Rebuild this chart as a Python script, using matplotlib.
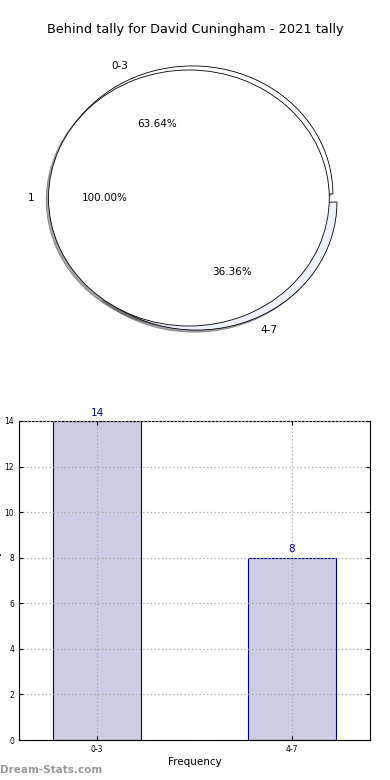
import matplotlib
matplotlib.use("Agg")
import matplotlib.pyplot as plt

title = "Behind tally for David Cuningham - 2021 tally"
outer_labels = ["0-3", "4-7"]
outer_values = [14, 8]
inner_labels = ["1"]
inner_values = [1]
bar_labels = ["0-3", "4-7"]
bar_values = [14, 8]

fig = plt.figure(figsize=(3.9, 7.8), dpi=100)

shadow_style = dict(ox=-0.012, oy=-0.012, shade=0.7)

# Pie axes
axp = fig.add_axes([19/390, 1-358/780, 351/390, 320/780])
w1, t1, a1 = axp.pie(outer_values, labels=outer_labels, autopct="%1.2f%%",
                     explode=[0.035, 0.035],
                     shadow=shadow_style,
                     startangle=0,
                     colors=["white", "#edf2fc"],
                     wedgeprops=dict(edgecolor="black", linewidth=0.6),
                     textprops=dict(fontsize=7.5))
w2, t2, a2 = axp.pie(inner_values, labels=inner_labels, autopct="%1.2f%%",
                     explode=[0.04], startangle=0,
                     shadow=shadow_style,
                     colors=["white"],
                     wedgeprops=dict(edgecolor="black", linewidth=0.6),
                     textprops=dict(fontsize=7.5))
axp.set_aspect("auto")
axp.set_xlim(-1.25, 1.25)
axp.set_ylim(-1.25, 1.25)
fig.text(0.5, 1-30/780, title, ha="center", va="center", fontsize=9.3)

# Bar axes
axb = fig.add_axes([19/390, 1-740/780, 351/390, 319/780])
x = list(range(len(bar_values)))
axb.bar(x, bar_values, width=0.45, color="#ccccE4", edgecolor="navy", linewidth=0.8, zorder=2)
for xi, v in zip(x, bar_values):
    axb.text(xi, v + 0.15, str(v), ha="center", va="bottom", color="navy", fontsize=7.5)
axb.set_xlim(-0.4, 1.4)
axb.set_ylim(0, 14)
axb.set_xticks(x)
axb.set_xticklabels(bar_labels)
axb.set_yticks(range(0, 15, 2))
axb.tick_params(labelsize=5.5, direction="in", length=3, right=True, top=True)
axb.grid(True, linestyle=(0, (1, 2)), color="#aaaaaa", linewidth=0.9, zorder=3)
axb.set_axisbelow(False)
axb.set_xlabel("Frequency", fontsize=7.5, labelpad=2)
axb.set_ylabel("Behind tally", fontsize=7.5, labelpad=2)
for s in axb.spines.values():
    s.set_linewidth(0.8)

fig.text(0.0, 1-770/780, "Dream-Stats.com", ha="left", va="center",
         fontsize=7.5, color="#999999", fontweight="bold")

fig.savefig("out.png", dpi=100)
